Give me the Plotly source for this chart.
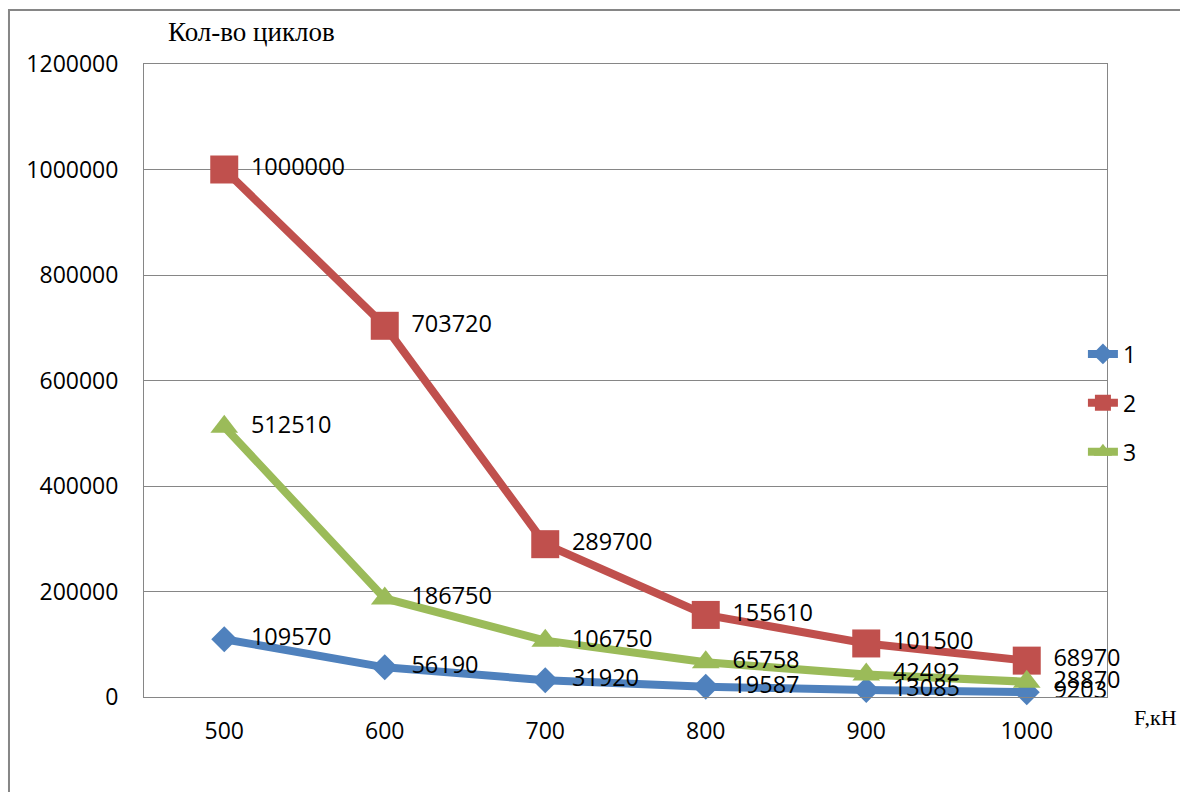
import plotly.graph_objects as go

# Load (kN) and number of cycles for three series
force = [500, 600, 700, 800, 900, 1000]
cycles_1 = [109570, 56190, 31920, 19587, 13085, 9203]
cycles_2 = [1000000, 703720, 289700, 155610, 101500, 68970]
cycles_3 = [512510, 186750, 106750, 65758, 42492, 28870]
series_names = ["1", "2", "3"]

colors = ["#4F81BD", "#C0504D", "#9BBB59"]
symbols = ["diamond", "square", "triangle-up"]
marker_sizes = [20, 28, 24]

GRID = "#868686"
SANS = "Open Sans, Liberation Sans, sans-serif"
SERIF = "Liberation Serif, Times New Roman, serif"
TICK_FONT = dict(family=SANS, size=23, color="#000000")
LABEL_FONT = dict(family=SANS, size=23.5, color="#000000")

fig = go.Figure()
for i, ys in enumerate([cycles_1, cycles_2, cycles_3]):
    fig.add_trace(go.Scatter(
        x=force, y=ys, name=series_names[i],
        mode="lines+markers",
        cliponaxis=False,
        line=dict(color=colors[i], width=8),
        marker=dict(color=colors[i], symbol=symbols[i], size=marker_sizes[i]),
        legendgroup=series_names[i],
    ))

# Value labels, pushed to the right of each point by a wide transparent marker
for i, ys in enumerate([cycles_1, cycles_2, cycles_3]):
    fig.add_trace(go.Scatter(
        x=force, y=ys, mode="markers+text",
        text=[str(v) for v in ys],
        textposition="middle right",
        textfont=LABEL_FONT,
        cliponaxis=False,
        marker=dict(size=41, color="rgba(0,0,0,0)"),
        showlegend=False, hoverinfo="skip",
    ))

fig.update_layout(
    width=1180, height=792,
    margin=dict(l=144, r=73, t=64, b=95),
    paper_bgcolor="white", plot_bgcolor="white",
    font=TICK_FONT,
    showlegend=True,
    legend=dict(x=0.975, y=1 - (403 - 64) / 633, xanchor="left", yanchor="middle",
                font=TICK_FONT, tracegroupgap=16, traceorder="grouped",
                bgcolor="rgba(0,0,0,0)"),
    xaxis=dict(range=[450, 1050], tickvals=force, ticktext=[str(f) for f in force],
               showgrid=False, zeroline=False, showline=True, linecolor=GRID,
               linewidth=1, mirror=True, ticks="", ticklabelstandoff=13,
               tickfont=TICK_FONT),
    yaxis=dict(range=[0, 1200000], dtick=200000, tickformat="d",
               showgrid=True, gridcolor=GRID, gridwidth=1, zeroline=False,
               showline=True, linecolor=GRID, linewidth=1, mirror=True,
               ticks="", ticklabelstandoff=20, tickfont=TICK_FONT),
    shapes=[dict(type="rect", xref="paper", yref="paper",
                 x0=-0.1402, y0=-0.3, x1=1.3, y1=1.0853,
                 line=dict(color=GRID, width=2), fillcolor="rgba(0,0,0,0)",
                 layer="below")],
    annotations=[
        dict(text="Кол-во циклов", xref="paper", yref="paper",
             x=(251 - 144) / 963, y=1 + (64 - 32) / 633, xanchor="center", yanchor="middle",
             showarrow=False, font=dict(family=SERIF, size=27, color="#000")),
        dict(text="F,кН", xref="paper", yref="paper",
             x=(1179 - 144) / 963, y=-(717 - 697) / 633, xanchor="right", yanchor="middle",
             showarrow=False, font=dict(family=SERIF, size=22, color="#000")),
    ],
)

fig.write_html("out.html")
